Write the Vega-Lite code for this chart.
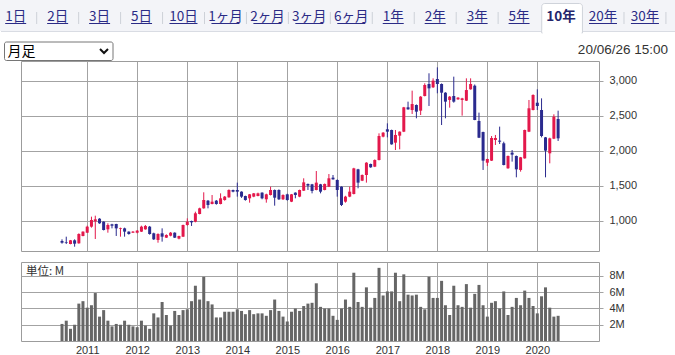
{
  "$schema": "https://vega.github.io/schema/vega-lite/v6.json",
  "padding": 0,
  "background": "white",
  "spacing": 11,
  "bounds": "flush",
  "resolve": {"scale": {"x": "independent", "y": "independent"}},
  "datasets": {
    "tabs": [
      {"label": "1日", "n": 0}, {"label": "2日", "n": 1}, {"label": "3日", "n": 2}, {"label": "5日", "n": 3},
      {"label": "10日", "n": 4}, {"label": "1ヶ月", "n": 5}, {"label": "2ヶ月", "n": 6}, {"label": "3ヶ月", "n": 7},
      {"label": "6ヶ月", "n": 8}, {"label": "1年", "n": 9}, {"label": "2年", "n": 10}, {"label": "3年", "n": 11},
      {"label": "5年", "n": 12}, {"label": "10年", "n": 13}, {"label": "20年", "n": 14}, {"label": "30年", "n": 15}
    ],
    "ohlc": [
      {"date": "2010-07-01", "open": 714, "high": 738, "low": 676, "close": 690, "volume": 2.1},
      {"date": "2010-08-01", "open": 695, "high": 776, "low": 671, "close": 686, "volume": 2.5},
      {"date": "2010-09-01", "open": 671, "high": 729, "low": 667, "close": 724, "volume": 1.5},
      {"date": "2010-10-01", "open": 724, "high": 738, "low": 633, "close": 676, "volume": 2.0},
      {"date": "2010-11-01", "open": 681, "high": 824, "low": 676, "close": 814, "volume": 4.6},
      {"date": "2010-12-01", "open": 786, "high": 852, "low": 781, "close": 848, "volume": 4.9},
      {"date": "2011-01-01", "open": 833, "high": 933, "low": 829, "close": 919, "volume": 4.1},
      {"date": "2011-02-01", "open": 919, "high": 1062, "low": 905, "close": 1014, "volume": 4.4},
      {"date": "2011-03-01", "open": 995, "high": 1076, "low": 743, "close": 1024, "volume": 5.9},
      {"date": "2011-04-01", "open": 1033, "high": 1040, "low": 960, "close": 967, "volume": 3.0},
      {"date": "2011-05-01", "open": 990, "high": 995, "low": 865, "close": 871, "volume": 3.8},
      {"date": "2011-06-01", "open": 881, "high": 967, "low": 833, "close": 943, "volume": 2.5},
      {"date": "2011-07-01", "open": 952, "high": 960, "low": 895, "close": 933, "volume": 1.8},
      {"date": "2011-08-01", "open": 957, "high": 960, "low": 786, "close": 895, "volume": 2.1},
      {"date": "2011-09-01", "open": 890, "high": 905, "low": 776, "close": 900, "volume": 2.0},
      {"date": "2011-10-01", "open": 895, "high": 905, "low": 776, "close": 848, "volume": 2.5},
      {"date": "2011-11-01", "open": 848, "high": 852, "low": 805, "close": 814, "volume": 2.0},
      {"date": "2011-12-01", "open": 833, "high": 857, "low": 829, "close": 848, "volume": 1.8},
      {"date": "2012-01-01", "open": 833, "high": 871, "low": 824, "close": 862, "volume": 1.7},
      {"date": "2012-02-01", "open": 848, "high": 933, "low": 843, "close": 919, "volume": 2.5},
      {"date": "2012-03-01", "open": 881, "high": 943, "low": 876, "close": 929, "volume": 1.9},
      {"date": "2012-04-01", "open": 919, "high": 929, "low": 805, "close": 814, "volume": 1.5},
      {"date": "2012-05-01", "open": 824, "high": 833, "low": 729, "close": 738, "volume": 3.4},
      {"date": "2012-06-01", "open": 729, "high": 824, "low": 690, "close": 814, "volume": 2.9},
      {"date": "2012-07-01", "open": 824, "high": 895, "low": 705, "close": 776, "volume": 4.8},
      {"date": "2012-08-01", "open": 762, "high": 810, "low": 757, "close": 800, "volume": 3.2},
      {"date": "2012-09-01", "open": 790, "high": 843, "low": 781, "close": 833, "volume": 1.9},
      {"date": "2012-10-01", "open": 833, "high": 838, "low": 757, "close": 762, "volume": 3.7},
      {"date": "2012-11-01", "open": 748, "high": 790, "low": 738, "close": 786, "volume": 3.2},
      {"date": "2012-12-01", "open": 776, "high": 948, "low": 771, "close": 943, "volume": 3.8},
      {"date": "2013-01-01", "open": 943, "high": 1038, "low": 933, "close": 990, "volume": 3.9},
      {"date": "2013-02-01", "open": 1000, "high": 1005, "low": 929, "close": 981, "volume": 4.9},
      {"date": "2013-03-01", "open": 990, "high": 1133, "low": 981, "close": 1110, "volume": 6.8},
      {"date": "2013-04-01", "open": 1100, "high": 1190, "low": 1095, "close": 1181, "volume": 5.1},
      {"date": "2013-05-01", "open": 1181, "high": 1410, "low": 1176, "close": 1300, "volume": 7.9},
      {"date": "2013-06-01", "open": 1290, "high": 1300, "low": 1181, "close": 1229, "volume": 4.9},
      {"date": "2013-07-01", "open": 1243, "high": 1371, "low": 1238, "close": 1276, "volume": 4.5},
      {"date": "2013-08-01", "open": 1290, "high": 1300, "low": 1233, "close": 1243, "volume": 2.9},
      {"date": "2013-09-01", "open": 1243, "high": 1395, "low": 1238, "close": 1324, "volume": 2.9},
      {"date": "2013-10-01", "open": 1300, "high": 1357, "low": 1290, "close": 1348, "volume": 3.6},
      {"date": "2013-11-01", "open": 1338, "high": 1452, "low": 1333, "close": 1443, "volume": 3.6},
      {"date": "2013-12-01", "open": 1443, "high": 1448, "low": 1410, "close": 1419, "volume": 3.6},
      {"date": "2014-01-01", "open": 1443, "high": 1548, "low": 1348, "close": 1419, "volume": 3.9},
      {"date": "2014-02-01", "open": 1419, "high": 1424, "low": 1330, "close": 1348, "volume": 3.7},
      {"date": "2014-03-01", "open": 1357, "high": 1362, "low": 1290, "close": 1300, "volume": 3.3},
      {"date": "2014-04-01", "open": 1324, "high": 1386, "low": 1262, "close": 1381, "volume": 3.8},
      {"date": "2014-05-01", "open": 1348, "high": 1400, "low": 1340, "close": 1395, "volume": 3.3},
      {"date": "2014-06-01", "open": 1357, "high": 1405, "low": 1352, "close": 1395, "volume": 3.4},
      {"date": "2014-07-01", "open": 1405, "high": 1410, "low": 1310, "close": 1324, "volume": 3.4},
      {"date": "2014-08-01", "open": 1310, "high": 1390, "low": 1262, "close": 1381, "volume": 3.1},
      {"date": "2014-09-01", "open": 1371, "high": 1490, "low": 1365, "close": 1443, "volume": 3.8},
      {"date": "2014-10-01", "open": 1443, "high": 1450, "low": 1219, "close": 1333, "volume": 5.1},
      {"date": "2014-11-01", "open": 1443, "high": 1452, "low": 1300, "close": 1310, "volume": 3.7},
      {"date": "2014-12-01", "open": 1310, "high": 1381, "low": 1300, "close": 1371, "volume": 3.0},
      {"date": "2015-01-01", "open": 1381, "high": 1390, "low": 1290, "close": 1300, "volume": 2.4},
      {"date": "2015-02-01", "open": 1276, "high": 1386, "low": 1270, "close": 1381, "volume": 3.6},
      {"date": "2015-03-01", "open": 1405, "high": 1410, "low": 1324, "close": 1371, "volume": 4.0},
      {"date": "2015-04-01", "open": 1348, "high": 1448, "low": 1340, "close": 1443, "volume": 3.7},
      {"date": "2015-05-01", "open": 1433, "high": 1610, "low": 1429, "close": 1552, "volume": 4.3},
      {"date": "2015-06-01", "open": 1529, "high": 1535, "low": 1443, "close": 1505, "volume": 4.6},
      {"date": "2015-07-01", "open": 1524, "high": 1530, "low": 1395, "close": 1429, "volume": 4.7},
      {"date": "2015-08-01", "open": 1443, "high": 1714, "low": 1438, "close": 1548, "volume": 7.1},
      {"date": "2015-09-01", "open": 1524, "high": 1530, "low": 1395, "close": 1419, "volume": 4.2},
      {"date": "2015-10-01", "open": 1443, "high": 1535, "low": 1438, "close": 1529, "volume": 4.0},
      {"date": "2015-11-01", "open": 1490, "high": 1671, "low": 1485, "close": 1610, "volume": 4.0},
      {"date": "2015-12-01", "open": 1619, "high": 1657, "low": 1590, "close": 1595, "volume": 3.1},
      {"date": "2016-01-01", "open": 1586, "high": 1595, "low": 1348, "close": 1443, "volume": 2.6},
      {"date": "2016-02-01", "open": 1490, "high": 1495, "low": 1214, "close": 1229, "volume": 4.0},
      {"date": "2016-03-01", "open": 1276, "high": 1360, "low": 1262, "close": 1348, "volume": 5.1},
      {"date": "2016-04-01", "open": 1348, "high": 1490, "low": 1340, "close": 1419, "volume": 4.2},
      {"date": "2016-05-01", "open": 1386, "high": 1760, "low": 1380, "close": 1752, "volume": 8.4},
      {"date": "2016-06-01", "open": 1738, "high": 1745, "low": 1467, "close": 1548, "volume": 4.8},
      {"date": "2016-07-01", "open": 1576, "high": 1665, "low": 1570, "close": 1657, "volume": 4.2},
      {"date": "2016-08-01", "open": 1657, "high": 1840, "low": 1548, "close": 1833, "volume": 6.6},
      {"date": "2016-09-01", "open": 1814, "high": 1820, "low": 1760, "close": 1767, "volume": 4.1},
      {"date": "2016-10-01", "open": 1776, "high": 1880, "low": 1770, "close": 1871, "volume": 5.3},
      {"date": "2016-11-01", "open": 1871, "high": 2252, "low": 1865, "close": 2214, "volume": 9.0},
      {"date": "2016-12-01", "open": 2205, "high": 2270, "low": 2195, "close": 2262, "volume": 5.6},
      {"date": "2017-01-01", "open": 2310, "high": 2395, "low": 2195, "close": 2276, "volume": 6.1},
      {"date": "2017-02-01", "open": 2300, "high": 2305, "low": 2090, "close": 2095, "volume": 6.1},
      {"date": "2017-03-01", "open": 2119, "high": 2300, "low": 2014, "close": 2229, "volume": 8.4},
      {"date": "2017-04-01", "open": 2219, "high": 2280, "low": 2024, "close": 2276, "volume": 4.9},
      {"date": "2017-05-01", "open": 2276, "high": 2630, "low": 2270, "close": 2624, "volume": 8.2},
      {"date": "2017-06-01", "open": 2624, "high": 2705, "low": 2590, "close": 2595, "volume": 5.7},
      {"date": "2017-07-01", "open": 2586, "high": 2862, "low": 2529, "close": 2671, "volume": 5.6},
      {"date": "2017-08-01", "open": 2657, "high": 2665, "low": 2467, "close": 2562, "volume": 5.7},
      {"date": "2017-09-01", "open": 2576, "high": 2785, "low": 2514, "close": 2776, "volume": 4.2},
      {"date": "2017-10-01", "open": 2786, "high": 2967, "low": 2780, "close": 2943, "volume": 3.9},
      {"date": "2017-11-01", "open": 2957, "high": 3110, "low": 2643, "close": 2895, "volume": 7.9},
      {"date": "2017-12-01", "open": 2910, "high": 3038, "low": 2900, "close": 3005, "volume": 5.3},
      {"date": "2018-01-01", "open": 3029, "high": 3195, "low": 2824, "close": 2957, "volume": 5.3},
      {"date": "2018-02-01", "open": 2957, "high": 2965, "low": 2371, "close": 2833, "volume": 7.4},
      {"date": "2018-03-01", "open": 2833, "high": 2840, "low": 2467, "close": 2705, "volume": 4.4},
      {"date": "2018-04-01", "open": 2729, "high": 2785, "low": 2619, "close": 2776, "volume": 3.2},
      {"date": "2018-05-01", "open": 2786, "high": 3062, "low": 2690, "close": 2705, "volume": 6.8},
      {"date": "2018-06-01", "open": 2738, "high": 2770, "low": 2730, "close": 2762, "volume": 4.4},
      {"date": "2018-07-01", "open": 2729, "high": 2760, "low": 2505, "close": 2752, "volume": 4.2},
      {"date": "2018-08-01", "open": 2719, "high": 3038, "low": 2714, "close": 2871, "volume": 7.0},
      {"date": "2018-09-01", "open": 2881, "high": 3038, "low": 2876, "close": 2957, "volume": 4.1},
      {"date": "2018-10-01", "open": 2933, "high": 2950, "low": 2440, "close": 2443, "volume": 5.8},
      {"date": "2018-11-01", "open": 2429, "high": 2548, "low": 2185, "close": 2190, "volume": 6.9},
      {"date": "2018-12-01", "open": 2271, "high": 2276, "low": 1729, "close": 1862, "volume": 4.4},
      {"date": "2019-01-01", "open": 1833, "high": 1890, "low": 1786, "close": 1886, "volume": 3.0},
      {"date": "2019-02-01", "open": 1862, "high": 2214, "low": 1857, "close": 2186, "volume": 4.7},
      {"date": "2019-03-01", "open": 2157, "high": 2229, "low": 2086, "close": 2186, "volume": 4.9},
      {"date": "2019-04-01", "open": 2148, "high": 2348, "low": 2100, "close": 2133, "volume": 4.0},
      {"date": "2019-05-01", "open": 2110, "high": 2133, "low": 1795, "close": 1800, "volume": 6.1},
      {"date": "2019-06-01", "open": 1752, "high": 1935, "low": 1748, "close": 1929, "volume": 3.2},
      {"date": "2019-07-01", "open": 1976, "high": 2014, "low": 1848, "close": 1948, "volume": 4.2},
      {"date": "2019-08-01", "open": 1929, "high": 1935, "low": 1624, "close": 1738, "volume": 5.3},
      {"date": "2019-09-01", "open": 1729, "high": 1915, "low": 1705, "close": 1910, "volume": 4.4},
      {"date": "2019-10-01", "open": 1895, "high": 2305, "low": 1890, "close": 2300, "volume": 6.2},
      {"date": "2019-11-01", "open": 2276, "high": 2729, "low": 2270, "close": 2610, "volume": 5.3},
      {"date": "2019-12-01", "open": 2586, "high": 2810, "low": 2580, "close": 2800, "volume": 4.3},
      {"date": "2020-01-01", "open": 2690, "high": 2881, "low": 2586, "close": 2643, "volume": 3.4},
      {"date": "2020-02-01", "open": 2586, "high": 2752, "low": 2195, "close": 2214, "volume": 5.5},
      {"date": "2020-03-01", "open": 2195, "high": 2200, "low": 1624, "close": 2005, "volume": 6.6},
      {"date": "2020-04-01", "open": 1967, "high": 2190, "low": 1824, "close": 2181, "volume": 4.1},
      {"date": "2020-05-01", "open": 2176, "high": 2524, "low": 2170, "close": 2490, "volume": 3.0},
      {"date": "2020-06-01", "open": 2457, "high": 2576, "low": 2143, "close": 2181, "volume": 3.1}
    ]
  },
  "vconcat": [
    {
      "width": 578,
      "height": 50,
      "view": {"stroke": null},
      "layer": [
        {
          "data": {"values": [{}]},
          "mark": {"type": "rect", "color": "#f3f4f8"},
          "encoding": {
            "x": {"datum": -0.3735, "type": "quantitative", "scale": {"domain": [0.1263, 13.905], "nice": false, "zero": false}, "axis": null},
            "x2": {"datum": 15.716},
            "y": {"datum": 0, "type": "quantitative", "scale": {"domain": [0, 50], "reverse": true, "nice": false, "zero": false}, "axis": null},
            "y2": {"datum": 31}
          }
        },
        {
          "data": {"values": [{}]},
          "mark": {"type": "rule", "color": "#d9dce3", "strokeWidth": 1},
          "encoding": {
            "x": {"datum": -0.35, "type": "quantitative"},
            "x2": {"datum": 15.716},
            "y": {"datum": 31.5, "type": "quantitative"}
          }
        },
        {
          "data": {"values": [{}]},
          "mark": {"type": "rect", "fill": "white", "stroke": "#cfd3da", "strokeWidth": 1, "cornerRadiusTopLeft": 3, "cornerRadiusTopRight": 3},
          "encoding": {
            "x": {"datum": 12.54, "type": "quantitative"},
            "x2": {"datum": 13.51},
            "y": {"datum": 3.5, "type": "quantitative"},
            "y2": {"datum": 33}
          }
        },
        {
          "data": {"values": [{}]},
          "mark": {"type": "rect", "fill": "white"},
          "encoding": {
            "x": {"datum": 12.56, "type": "quantitative"},
            "x2": {"datum": 13.49},
            "y": {"datum": 30, "type": "quantitative"},
            "y2": {"datum": 34}
          }
        },
        {
          "data": {"name": "tabs"},
          "transform": [{"filter": "datum.n != 12 && datum.n != 13"}],
          "mark": {"type": "rule", "color": "#cdd1d8", "xOffset": 21},
          "encoding": {
            "x": {"field": "n", "type": "quantitative"},
            "y": {"datum": 12, "type": "quantitative"},
            "y2": {"datum": 24}
          }
        },
        {
          "data": {"name": "tabs"},
          "transform": [{"filter": "datum.n != 13"}],
          "mark": {"type": "text", "font": "Noto Sans CJK JP", "fontSize": 13.5, "color": "#2b2b86", "baseline": "middle", "align": "center"},
          "encoding": {
            "x": {"field": "n", "type": "quantitative"},
            "y": {"datum": 16.5, "type": "quantitative"},
            "text": {"field": "label"}
          }
        },
        {
          "data": {"name": "tabs"},
          "transform": [{"filter": "datum.n == 13"}],
          "mark": {"type": "text", "font": "Noto Sans CJK JP", "fontSize": 13.5, "fontWeight": "bold", "color": "#25256b", "baseline": "middle", "align": "center"},
          "encoding": {
            "x": {"field": "n", "type": "quantitative"},
            "y": {"datum": 16.5, "type": "quantitative"},
            "text": {"field": "label"}
          }
        },
        {
          "data": {"name": "tabs"},
          "transform": [{"filter": "datum.n != 13 && length(datum.label) == 2"}],
          "mark": {"type": "rule", "color": "#2b2b86", "xOffset": -10.5, "x2Offset": 10.5},
          "encoding": {
            "x": {"field": "n", "type": "quantitative"},
            "x2": {"field": "n"},
            "y": {"datum": 23.5, "type": "quantitative"}
          }
        },
        {
          "data": {"name": "tabs"},
          "transform": [{"filter": "datum.n != 13 && length(datum.label) == 3"}],
          "mark": {"type": "rule", "color": "#2b2b86", "xOffset": -14, "x2Offset": 14},
          "encoding": {
            "x": {"field": "n", "type": "quantitative"},
            "x2": {"field": "n"},
            "y": {"datum": 23.5, "type": "quantitative"}
          }
        },
        {
          "data": {"values": [{}]},
          "mark": {"type": "rect", "fill": "white", "stroke": "#767676", "strokeWidth": 1, "cornerRadius": 2},
          "encoding": {
            "x": {"datum": -0.267, "type": "quantitative"},
            "x2": {"datum": 2.3195},
            "y": {"datum": 42, "type": "quantitative"},
            "y2": {"datum": 60.5}
          }
        },
        {
          "data": {"values": [{"t": "月足"}]},
          "mark": {"type": "text", "font": "Noto Sans CJK JP", "fontSize": 14, "color": "#000000", "align": "left", "baseline": "middle"},
          "encoding": {
            "x": {"datum": -0.195, "type": "quantitative"},
            "y": {"datum": 52, "type": "quantitative"},
            "text": {"field": "t"}
          }
        },
        {
          "data": {"values": [{}]},
          "mark": {"type": "point", "shape": "M-1,-0.5L0,0.5L1,-0.5", "filled": false, "stroke": "#111111", "strokeWidth": 2, "size": 64, "opacity": 1},
          "encoding": {
            "x": {"datum": 2.105, "type": "quantitative"},
            "y": {"datum": 51, "type": "quantitative"}
          }
        },
        {
          "data": {"values": [{"t": "20/06/26 15:00"}]},
          "mark": {"type": "text", "font": "Liberation Sans", "fontSize": 13.5, "color": "#333333", "align": "right", "baseline": "middle"},
          "encoding": {
            "x": {"datum": 15.549, "type": "quantitative"},
            "y": {"datum": 50, "type": "quantitative"},
            "text": {"field": "t"}
          }
        }
      ]
    },
    {
      "width": 578,
      "height": 190,
      "data": {"name": "ohlc"},
      "encoding": {
        "x": {
          "field": "date", "type": "temporal",
          "scale": {"domain": [{"year": 2009, "month": 10, "date": 11}, {"year": 2021, "month": 2, "date": 18}], "nice": false},
          "axis": {"values": [{"year": 2011}, {"year": 2012}, {"year": 2013}, {"year": 2014}, {"year": 2015}, {"year": 2016}, {"year": 2017}, {"year": 2018}, {"year": 2019}, {"year": 2020}], "grid": true, "labels": false, "ticks": false, "domain": false, "title": null}
        },
        "color": {"condition": {"test": "datum.close >= datum.open", "value": "#e3184b"}, "value": "#2a2a8e"}
      },
      "layer": [
        {
          "mark": {"type": "rule", "strokeWidth": 1},
          "encoding": {
            "y": {"field": "low", "type": "quantitative", "scale": {"domain": [571.4, 3285.7], "nice": false, "zero": false},
                  "axis": {"orient": "right", "values": [1000, 1500, 2000, 2500, 3000], "labelExpr": "format(datum.value, ',')", "title": null, "grid": true, "tickSize": 4, "labelPadding": 6, "domain": false}},
            "y2": {"field": "high"}
          }
        },
        {
          "mark": {"type": "bar", "size": 3},
          "encoding": {
            "y": {"field": "open", "type": "quantitative",
                  "axis": {"orient": "right", "values": [1000, 1500, 2000, 2500, 3000], "labelExpr": "format(datum.value, ',')", "title": null, "grid": true, "tickSize": 4, "labelPadding": 6, "domain": false}},
            "y2": {"field": "close"}
          }
        }
      ]
    },
    {
      "width": 578,
      "height": 79,
      "data": {"name": "ohlc"},
      "title": {"text": "単位: M", "anchor": "start", "frame": "group", "offset": -21.5, "dx": 5, "fontSize": 11.5, "fontWeight": "normal", "color": "#333333", "font": "Noto Sans CJK JP", "baseline": "middle"},
      "mark": {"type": "bar", "size": 3, "color": "#666666"},
      "encoding": {
        "x": {
          "field": "date", "type": "temporal",
          "scale": {"domain": [{"year": 2009, "month": 10, "date": 11}, {"year": 2021, "month": 2, "date": 18}], "nice": false},
          "axis": {"values": [{"year": 2011}, {"year": 2012}, {"year": 2013}, {"year": 2014}, {"year": 2015}, {"year": 2016}, {"year": 2017}, {"year": 2018}, {"year": 2019}, {"year": 2020}], "format": "%Y", "grid": true, "ticks": false, "domain": false, "labelPadding": 3, "labelFlush": false, "title": null}
        },
        "y": {
          "field": "volume", "type": "quantitative",
          "scale": {"domain": [0, 9.72], "nice": false},
          "axis": {"orient": "right", "values": [2, 4, 6, 8], "labelExpr": "datum.value + 'M'", "title": null, "grid": true, "tickSize": 4, "labelPadding": 6, "domain": false}
        }
      }
    }
  ],
  "config": {
    "font": "Liberation Sans",
    "view": {"stroke": "#9c9c9c"},
    "axis": {"gridColor": "#a3a3a3", "gridOpacity": 1, "tickColor": "#a3a3a3", "labelFont": "Liberation Sans", "labelFontSize": 11, "labelColor": "#333333"}
  }
}
